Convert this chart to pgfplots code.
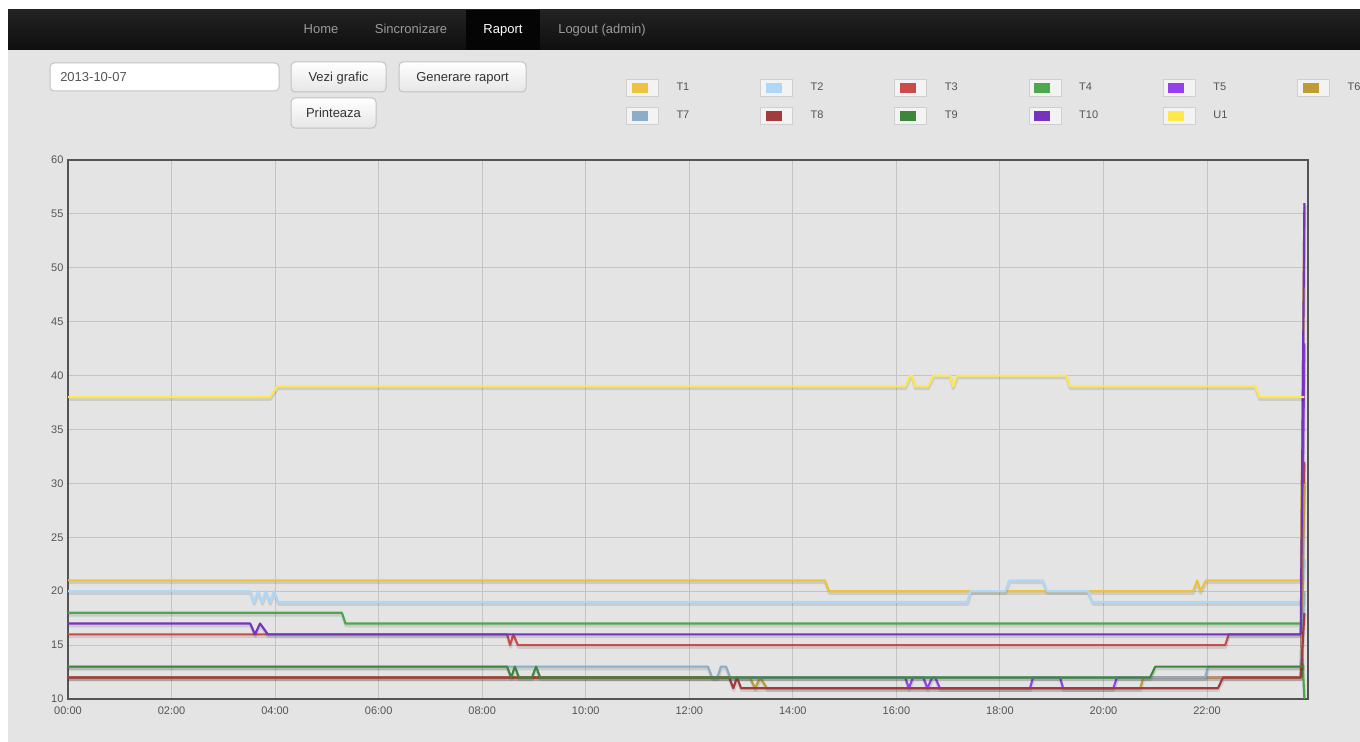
\documentclass[border=0pt]{standalone}
\usepackage{fontspec}
\setmainfont{Liberation Sans}
\usepackage{pgfplots}
\usepackage{pgfplotstable}
\pgfplotsset{compat=1.18}

\definecolor{cT1}{HTML}{EDC240}
\definecolor{cT2}{HTML}{AFD8F8}
\definecolor{cT3}{HTML}{CB4B4B}
\definecolor{cT4}{HTML}{4DA74D}
\definecolor{cT5}{HTML}{9440ED}
\definecolor{cT6}{HTML}{BE9B33}
\definecolor{cT7}{HTML}{8CADC6}
\definecolor{cT8}{HTML}{A23C3C}
\definecolor{cT9}{HTML}{3E863E}
\definecolor{cT10}{HTML}{7633BE}
\definecolor{cU1}{HTML}{FFE84D}
\definecolor{pagebg}{HTML}{E4E4E4}
\definecolor{gridc}{HTML}{C4C4C4}
\definecolor{axc}{HTML}{545454}
\definecolor{navtop}{HTML}{232323}
\definecolor{navbot}{HTML}{0F0F0F}
\definecolor{navact}{HTML}{050505}
\definecolor{navtext}{HTML}{9A9A9A}
\definecolor{btnborder}{HTML}{C2C2C2}
\definecolor{btnbot}{HTML}{E6E6E6}
\definecolor{btntext}{HTML}{333333}
\definecolor{inptext}{HTML}{555555}
\definecolor{legframe}{HTML}{CFCFCF}
\definecolor{legfill}{HTML}{F3F3F3}

% ---------- data (hours since 00:00, value) ----------
\pgfplotstableread{
h v
0 21
14.62 21
14.70 20
21.73 20
21.81 21
21.87 20
21.98 21
23.81 21
23.88 56
}\tTone
\pgfplotstableread{
h v
0 20
3.52 20
3.59 19
3.67 20
3.75 19
3.82 20
3.90 19
3.98 20
4.06 19
17.37 19
17.43 20
18.10 20
18.18 21
18.83 21
18.91 20
19.70 20
19.79 19
23.81 19
23.88 23
}\tTtwo
\pgfplotstableread{
h v
0 16
8.48 16
8.54 15
8.60 16
8.69 15
22.35 15
22.42 16
23.81 16
23.88 32
}\tTthree
\pgfplotstableread{
h v
0 18
5.29 18
5.36 17
23.81 17
23.88 10
}\tTfour
\pgfplotstableread{
h v
0 12
16.17 12
16.24 11
16.32 12
16.52 12
16.60 11
16.69 12
16.75 12
16.84 11
18.58 11
18.64 12
19.16 12
19.22 11
20.19 11
20.26 12
23.81 12
23.88 43
}\tTfive
\pgfplotstableread{
h v
0 12
13.17 12
13.27 11
13.37 12
13.50 11
20.71 11
20.77 12
23.81 12
23.88 30
}\tTsix
\pgfplotstableread{
h v
0 13
12.36 13
12.44 12
12.54 12
12.61 13
12.71 13
12.79 12
21.96 12
22.02 13
23.81 13
23.88 20
}\tTseven
\pgfplotstableread{
h v
0 12
12.77 12
12.85 11
12.92 12
13.00 11
22.21 11
22.31 12
23.81 12
23.88 18
}\tTeight
\pgfplotstableread{
h v
0 13
8.48 13
8.56 12
8.63 13
8.71 12
8.96 12
9.04 13
9.12 12
20.90 12
21.00 13
23.81 13
23.88 13
}\tTnine
\pgfplotstableread{
h v
0 17
3.52 17
3.61 16
3.71 17
3.86 16
23.81 16
23.88 56
}\tTten
\pgfplotstableread{
h v
0 38
3.90 38
4.04 39
16.17 39
16.26 40
16.30 40
16.36 39
16.61 39
16.71 40
17.04 40
17.09 39
17.17 40
19.28 40
19.35 39
22.93 39
23.01 38
23.88 38
}\tUone

\pgfplotsset{
  dataline/.style={line width=1.6pt, line join=round, mark=none},
  shadowline/.style={forget plot, line width=2.25pt, black, opacity=0.1,
    line join=round, mark=none, transform canvas={xshift=0.3pt, yshift=-1.7pt}},
}

\begin{document}
\begin{tikzpicture}[x=0.75pt,y=-0.75pt]
\useasboundingbox (0,0) rectangle (1360,742);
% page background
\fill[pagebg] (0,0) rectangle (1360,742);
\fill[white] (0,0) rectangle (1360,10);
\fill[white] (0,0) rectangle (8,742);
% navbar
\shade[top color=navtop, bottom color=navbot] (8,10) rectangle (1360,50);
\fill[navact] (466,10) rectangle (540,50);
\begin{scope}[font=\fontsize{9.75}{11}\selectfont, every node/.style={anchor=base, inner sep=0pt}]
\node[text=navtext] at (321,34) {Home};
\node[text=navtext] at (411,34) {Sincronizare};
\node[text=white]   at (503,34) {Raport};
\node[text=navtext] at (602,34) {Logout (admin)};
% date input
\fill[white, rounded corners=3pt] (50,63) rectangle (279,91);
\draw[btnborder, line width=0.75pt, rounded corners=3pt] (50,63) rectangle (279,91);
\node[text=inptext, anchor=base west] at (60,81.5) {2013-10-07};
% buttons
\shade[top color=white, bottom color=btnbot, rounded corners=3pt] (291,62) rectangle (386,92);
\draw[btnborder, line width=0.75pt, rounded corners=3pt] (291,62) rectangle (386,92);
\node[text=btntext] at (338.5,81.5) {Vezi grafic};
\shade[top color=white, bottom color=btnbot, rounded corners=3pt] (399,62) rectangle (526,92);
\draw[btnborder, line width=0.75pt, rounded corners=3pt] (399,62) rectangle (526,92);
\node[text=btntext] at (462.5,81.5) {Generare raport};
\shade[top color=white, bottom color=btnbot, rounded corners=3pt] (291,98) rectangle (376,128);
\draw[btnborder, line width=0.75pt, rounded corners=3pt] (291,98) rectangle (376,128);
\node[text=btntext] at (333.5,117.5) {Printeaza};
\end{scope}

\begin{axis}[
  at={(51pt,-524.25pt)}, anchor=south west,
  scale only axis, width=930pt, height=404.25pt,
  xmin=0, xmax=23.95, ymin=10, ymax=60,
  xtick={0,2,...,22},
  xticklabels={00:00,02:00,04:00,06:00,08:00,10:00,12:00,14:00,16:00,18:00,20:00,22:00},
  ytick={10,15,...,60},
  grid=major,
  major grid style={draw=gridc, line width=0.75pt},
  axis line style={draw=axc, line width=1.5pt},
  major tick length=0pt,
  tick style={draw=none},
  /pgf/number format/assume math mode=true,
  ticklabel style={font=\fontsize{8.25}{10}\selectfont, text=axc},
  yticklabel style={inner sep=0pt, xshift=-3.2pt},
  xticklabel style={inner sep=0pt, yshift=-6pt},
  legend columns=6,
  legend image code/.code={
    \path[draw=none, fill=none] (0pt,-10.5pt) rectangle (37.5pt,10.5pt);
    \path[draw=legframe, fill=legfill, line width=0.75pt] (0pt,-6.4pt) rectangle (24pt,6.4pt);
    \path[fill=., draw=none, #1, draw=none] (3.75pt,-4.1pt) rectangle (15.75pt,4.1pt);
  },
  legend style={draw=none, fill=none, inner sep=0pt, outer sep=0pt,
    column sep=0pt, row sep=0pt,
    font=\fontsize{8.25}{10}\selectfont, text=axc,
    nodes={inner sep=0pt, outer sep=0pt, text width=62.8pt, align=left, anchor=center},
    at={(0.4500,1.1596)}, anchor=north west},
]
\addplot[shadowline] table[x=h,y=v] {\tTone};
\addplot[dataline, color=cT1] table[x=h,y=v] {\tTone};
\addlegendentry{T1}
\addplot[shadowline] table[x=h,y=v] {\tTtwo};
\addplot[dataline, color=cT2] table[x=h,y=v] {\tTtwo};
\addlegendentry{T2}
\addplot[shadowline] table[x=h,y=v] {\tTthree};
\addplot[dataline, color=cT3] table[x=h,y=v] {\tTthree};
\addlegendentry{T3}
\addplot[shadowline] table[x=h,y=v] {\tTfour};
\addplot[dataline, color=cT4] table[x=h,y=v] {\tTfour};
\addlegendentry{T4}
\addplot[shadowline] table[x=h,y=v] {\tTfive};
\addplot[dataline, color=cT5] table[x=h,y=v] {\tTfive};
\addlegendentry{T5}
\addplot[shadowline] table[x=h,y=v] {\tTsix};
\addplot[dataline, color=cT6] table[x=h,y=v] {\tTsix};
\addlegendentry{T6}
\addplot[shadowline] table[x=h,y=v] {\tTseven};
\addplot[dataline, color=cT7] table[x=h,y=v] {\tTseven};
\addlegendentry{T7}
\addplot[shadowline] table[x=h,y=v] {\tTeight};
\addplot[dataline, color=cT8] table[x=h,y=v] {\tTeight};
\addlegendentry{T8}
\addplot[shadowline] table[x=h,y=v] {\tTnine};
\addplot[dataline, color=cT9] table[x=h,y=v] {\tTnine};
\addlegendentry{T9}
\addplot[shadowline] table[x=h,y=v] {\tTten};
\addplot[dataline, color=cT10] table[x=h,y=v] {\tTten};
\addlegendentry{T10}
\addplot[shadowline] table[x=h,y=v] {\tUone};
\addplot[dataline, color=cU1] table[x=h,y=v] {\tUone};
\addlegendentry{U1}
\end{axis}
\end{tikzpicture}
\end{document}
